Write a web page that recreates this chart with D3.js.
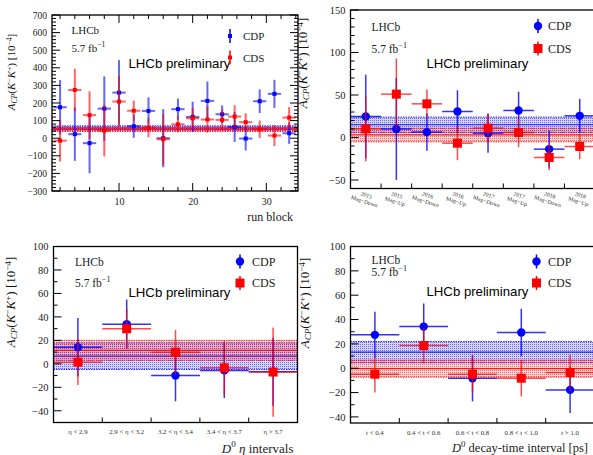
<!DOCTYPE html>
<html>
<head>
<meta charset="utf-8">
<script src="https://cdn.jsdelivr.net/npm/d3@7"></script>
<style>
  html, body { margin: 0; padding: 0; background: #fff; }
  svg { display: block; }
  .serif { font-family: "Liberation Serif", "DejaVu Serif", serif; }
  .sans { font-family: "Liberation Sans", Arial, sans-serif; }
</style>
</head>
<body>
<svg id="chart" width="593" height="455"></svg>
<script>
// ---- A_CP(K-K+) per run block ----
const runBlock    = [2, 4, 6, 8, 10, 12, 14, 16, 18, 20, 22, 24, 25.7, 27.2, 29.1, 31.1, 33.1];
const runCDP      = [176, 23, -28, 168, 259, 68, 155, 0, 165, 121, 212, 136, 64, -2, 210, 252, 28];
const runCDPerr   = [155, 152, 171, 183, 185, 66, 77, 165, 60, 86, 110, 50, 85, 68, 67, 80, 60];
const runCDS      = [-14, 274, 131, 43, 208, 156, 60, -6, 79, 113, 106, 104, 123, 91, 51, 15, 117];
const runCDSerr   = [119, 120, 135, 147, 146, 58, 55, 145, 45, 60, 75, 60, 65, 50, 50, 60, 60];
const runBandCDP  = [58, 12];   // [average, uncertainty]
const runBandCDS  = [50, 12];

// ---- per data-taking period ----
const periodYears = ["2015", "2015", "2016", "2016", "2017", "2017", "2018", "2018"];
const periodMag   = ["Mag−Down", "Mag−Up", "Mag−Down", "Mag−Up", "Mag−Down", "Mag−Up", "Mag−Down", "Mag−Up"];
const periodCDP    = [24.7, 10, 6.3, 30.6, 5.1, 31.8, -13.7, 25.5];
const periodCDPerr = [49, 60, 22, 25, 23, 22, 22, 20];
const periodCDS    = [10.2, 51, 39.6, -6.7, 11, 5.9, -23.5, -10.6];
const periodCDSerr = [38, 42, 17, 20, 17, 17, 15, 15];
const periodBandCDP = [15, 9];
const periodBandCDS = [3, 8];

// ---- per D0 pseudorapidity interval ----
const etaBins     = ["η < 2.9", "2.9 < η < 3.2", "3.2 < η < 3.4", "3.4 < η < 3.7", "η > 3.7"];
const etaCDP      = [14.1, 33.8, -9.9, -5.6, -6.8];
const etaCDPerr   = [25, 21, 22, 23.5, 29];
const etaCDS      = [1.4, 29.9, 9.9, -3.4, -7];
const etaCDSerr   = [19.5, 17, 19, 23, 38];
const etaBandCDP  = [6.5, 11.3];
const etaBandCDS  = [11.5, 8.5];

// ---- per D0 decay-time interval ----
const timeBins    = ["t < 0.4", "0.4 < t < 0.6", "0.6 < t < 0.8", "0.8 < t < 1.0", "t > 1.0"];
const timeCDP     = [27.4, 34.2, -8.2, 29.3, -17.8];
const timeCDPerr  = [19, 19, 19, 19.5, 19];
const timeCDS     = [-4.9, 18.6, -4.9, -8.2, -3.6];
const timeCDSerr  = [15, 14.5, 15, 15, 14.6];
const timeBandCDP = [13.2, 8.7];
const timeBandCDS = [-0.3, 7.0];

const BLUE = "#0000ff", RED = "#ff0000";
const svg = d3.select("#chart");

// dotted fill patterns for the average bands
const defs = svg.append("defs");
[["dotsBlue", BLUE], ["dotsRed", RED]].forEach(([id, col]) => {
  const p = defs.append("pattern").attr("id", id)
    .attr("patternUnits", "userSpaceOnUse").attr("width", 2).attr("height", 2);
  p.append("rect").attr("width", 1).attr("height", 1).attr("fill", col).attr("opacity", 0.5);
});

function supText(sel, parts) {
  // parts: [text, mode] with mode "n" normal, "i" italic, "sup", "sub", "isub"
  parts.forEach(([t, m]) => {
    const ts = sel.append("tspan").text(t);
    if (m === "i") ts.attr("font-style", "italic");
    if (m === "sup") ts.attr("baseline-shift", "40%").attr("font-size", "70%");
    if (m === "sub" || m === "isub") ts.attr("baseline-shift", "-25%").attr("font-size", "70%");
    if (m === "isub") ts.attr("font-style", "italic");
  });
}

function yTitle(g, cx, cy, size) {
  const t = g.append("text").attr("class", "serif")
    .attr("transform", `translate(${cx},${cy}) rotate(-90)`)
    .attr("text-anchor", "middle").attr("font-size", size).attr("fill", "#111");
  supText(t, [["A", "i"], ["CP", "isub"], ["(", "n"], ["K", "i"], ["−", "sup"],
              ["K", "i"], ["+", "sup"], [") [10", "n"], ["−4", "sup"], ["]", "n"]]);
}

function header(g, x0, yL, yF, size) {
  g.append("text").attr("class", "serif").attr("x", x0).attr("y", yL)
    .attr("dominant-baseline", "central").attr("font-size", size).attr("fill", "#222").text("LHCb");
  const t = g.append("text").attr("class", "serif").attr("x", x0).attr("y", yF)
    .attr("dominant-baseline", "central").attr("font-size", size).attr("fill", "#222");
  supText(t, [["5.7  fb", "n"], ["−1", "sup"]]);
}

function prelim(g, x0, yc) {
  g.append("text").attr("class", "sans").attr("x", x0).attr("y", yc)
    .attr("dominant-baseline", "central").attr("font-size", 13.2).attr("fill", "#000")
    .text("LHCb preliminary");
}

function legend(g, mx, tx, y1, y2, big, size) {
  const items = [["CDP", BLUE, "circle", y1], ["CDS", RED, "square", y2]];
  items.forEach(([lab, col, shape, yy]) => {
    g.append("line").attr("x1", mx).attr("x2", mx).attr("y1", yy - 7).attr("y2", yy + 7)
      .attr("stroke", col).attr("stroke-width", 1.5);
    if (!big) {
      g.append("rect").attr("x", mx - 2).attr("y", yy - 2).attr("width", 4).attr("height", 4).attr("fill", col);
    } else if (shape === "circle") {
      g.append("circle").attr("cx", mx).attr("cy", yy).attr("r", 4.2).attr("fill", col);
    } else {
      g.append("rect").attr("x", mx - 4.5).attr("y", yy - 4.5).attr("width", 9).attr("height", 9).attr("fill", col);
    }
    g.append("text").attr("class", "serif").attr("x", tx).attr("y", yy)
      .attr("dominant-baseline", "central").attr("font-size", size).attr("fill", "#222").text(lab);
  });
}

function band(g, x, y, b, col, pat) {
  const [x0, x1] = x.range();
  const top = y(b[0] + b[1]), bot = y(b[0] - b[1]);
  g.append("rect").attr("x", x0).attr("y", top).attr("width", x1 - x0).attr("height", bot - top)
    .attr("fill", col).attr("opacity", 0.17);
  g.append("rect").attr("x", x0).attr("y", top).attr("width", x1 - x0).attr("height", bot - top)
    .attr("fill", `url(#${pat})`);
  [b[0] + b[1], b[0] - b[1]].forEach(v => g.append("line")
    .attr("x1", x0).attr("x2", x1).attr("y1", y(v)).attr("y2", y(v))
    .attr("stroke", col).attr("stroke-width", 1).attr("stroke-dasharray", "1.5,1").attr("opacity", 0.85));
  g.append("line").attr("x1", x0).attr("x2", x1).attr("y1", y(b[0])).attr("y2", y(b[0]))
    .attr("stroke", col).attr("stroke-width", 1.2).attr("opacity", 0.85);
}

function points(g, xs, hw, vals, errs, y, col, shape, alpha, lw) {
  const sel = g.append("g");
  vals.forEach((v, i) => {
    const cx = xs(i);
    sel.append("line").attr("x1", cx).attr("x2", cx).attr("y1", y(v - errs[i])).attr("y2", y(v + errs[i]))
      .attr("stroke", col).attr("stroke-width", lw).attr("opacity", alpha);
    sel.append("line").attr("x1", hw(i)[0]).attr("x2", hw(i)[1]).attr("y1", y(v)).attr("y2", y(v))
      .attr("stroke", col).attr("stroke-width", lw).attr("opacity", alpha);
  });
  vals.forEach((v, i) => {
    const cx = xs(i), cy = y(v);
    if (shape === "small") {
      sel.append("rect").attr("x", cx - 2).attr("y", cy - 2).attr("width", 4).attr("height", 4).attr("fill", col);
    } else if (shape === "circle") {
      sel.append("circle").attr("cx", cx).attr("cy", cy).attr("r", 4.2).attr("fill", col);
    } else {
      sel.append("rect").attr("x", cx - 4.5).attr("y", cy - 4.5).attr("width", 9).attr("height", 9).attr("fill", col);
    }
  });
}

function frame(g, x, y) {
  const [x0, x1] = x.range(), [y1, y0] = y.range();
  g.append("rect").attr("x", x0).attr("y", y0).attr("width", x1 - x0).attr("height", y1 - y0)
    .attr("fill", "none").attr("stroke", "#000").attr("stroke-width", 1.3);
}

function yAxisTicks(g, y, x, major, minor, fmtSize, rightSide) {
  const [x0, x1] = x.range();
  const [lo, hi] = y.domain();
  const maj = d3.range(Math.ceil(lo / major) * major, hi + 1e-9, major);
  const mnr = d3.range(Math.ceil(lo / minor) * minor, hi + 1e-9, minor);
  const ax = d3.axisLeft(y).tickValues(maj).tickSize(0).tickPadding(5).tickFormat(d3.format("d"));
  const ag = g.append("g").attr("transform", `translate(${x0},0)`).call(ax);
  ag.select(".domain").remove();
  ag.selectAll("text").attr("class", "serif").attr("font-size", fmtSize).attr("fill", "#222");
  const sides = rightSide ? [[x0, 1], [x1, -1]] : [[x0, 1]];
  sides.forEach(([xe, dir]) => {
    mnr.forEach(v => {
      const isMaj = Math.abs(v / major - Math.round(v / major)) < 1e-6;
      g.append("line").attr("x1", xe).attr("x2", xe + dir * (isMaj ? 8 : 4))
        .attr("y1", y(v)).attr("y2", y(v)).attr("stroke", "#000").attr("stroke-width", 1);
    });
  });
}

function binTicks(g, x, y, n) {
  const [y1] = y.range();
  d3.range(1, n).forEach(i => g.append("line").attr("x1", x(i)).attr("x2", x(i))
    .attr("y1", y1).attr("y2", y1 - 5).attr("stroke", "#000").attr("stroke-width", 1));
}

// ================= Panel 1: run blocks =================
(function () {
  const g = svg.append("g");
  const x = d3.scaleLinear().domain([0.9, 34.3]).range([52, 298]);
  const y = d3.scaleLinear().domain([-300, 700]).range([191, 15]);
  band(g, x, y, runBandCDP, BLUE, "dotsBlue");
  band(g, x, y, runBandCDS, RED, "dotsRed");
  const hw = i => [x(runBlock[i] - 0.9), x(runBlock[i] + 0.9)];
  points(g, i => x(runBlock[i]), hw, runCDP, runCDPerr, y, BLUE, "small", 0.6, 2);
  points(g, i => x(runBlock[i]), hw, runCDS, runCDSerr, y, RED, "small", 0.6, 2);
  frame(g, x, y);
  yAxisTicks(g, y, x, 100, 20, 9.5, true);
  // x ticks: bottom and top
  const xt = d3.range(2, 34.3, 2);
  [[191, -1], [15, 1]].forEach(([ye, dir]) => xt.forEach(v => {
    const m = v % 10 === 0;
    g.append("line").attr("x1", x(v)).attr("x2", x(v)).attr("y1", ye).attr("y2", ye + dir * (m ? 8 : 4))
      .attr("stroke", "#000").attr("stroke-width", 1);
  }));
  const axb = d3.axisBottom(x).tickValues([10, 20, 30]).tickSize(0).tickPadding(7);
  const ag = g.append("g").attr("transform", "translate(0,191)").call(axb);
  ag.select(".domain").remove();
  ag.selectAll("text").attr("class", "serif").attr("font-size", 10).attr("fill", "#222");
  g.append("text").attr("class", "serif").attr("x", 293).attr("y", 217).attr("text-anchor", "end")
    .attr("dominant-baseline", "central").attr("font-size", 12).attr("fill", "#222").text("run block");
  yTitle(g, 15, 72, 11);
  header(g, 71.5, 29.5, 47.5, 11);
  prelim(g, 128.5, 63.5);
  legend(g, 230, 243, 36, 57.5, false, 11);
})();

// ================= Panel 2: data-taking periods =================
(function () {
  const g = svg.append("g");
  const x = d3.scaleLinear().domain([0, 8]).range([350.5, 595]);
  const y = d3.scaleLinear().domain([-60, 150]).range([188.5, 10]);
  band(g, x, y, periodBandCDP, BLUE, "dotsBlue");
  band(g, x, y, periodBandCDS, RED, "dotsRed");
  const hw = i => [x(i), x(i + 1)];
  points(g, i => x(i + 0.5), hw, periodCDP, periodCDPerr, y, BLUE, "circle", 0.8, 1.5);
  points(g, i => x(i + 0.5), hw, periodCDS, periodCDSerr, y, RED, "square", 0.7, 1.5);
  frame(g, x, y);
  yAxisTicks(g, y, x, 50, 10, 10.5, false);
  binTicks(g, x, y, 8);
  periodYears.forEach((yr, i) => {
    const t = g.append("text").attr("class", "serif").attr("font-size", 5.8).attr("fill", "#333")
      .attr("text-anchor", "middle")
      .attr("transform", `translate(${x(i + 0.5)},${197}) rotate(18)`);
    t.append("tspan").attr("x", 0).attr("dy", 0).text(yr);
    t.append("tspan").attr("x", 0).attr("dy", 6.5).text(periodMag[i]);
  });
  yTitle(g, 307, 63, 13);
  header(g, 371.5, 26.5, 48.5, 11.5);
  prelim(g, 426.5, 63);
  legend(g, 538, 548, 26, 48.5, true, 12);
})();

// ================= Panel 3: eta intervals =================
(function () {
  const g = svg.append("g");
  const x = d3.scaleLinear().domain([0, 5]).range([53.5, 297.5]);
  const y = d3.scaleLinear().domain([-50, 100]).range([422.5, 246.5]);
  band(g, x, y, etaBandCDP, BLUE, "dotsBlue");
  band(g, x, y, etaBandCDS, RED, "dotsRed");
  const hw = i => [x(i), x(i + 1)];
  points(g, i => x(i + 0.5), hw, etaCDP, etaCDPerr, y, BLUE, "circle", 0.8, 1.5);
  points(g, i => x(i + 0.5), hw, etaCDS, etaCDSerr, y, RED, "square", 0.7, 1.5);
  frame(g, x, y);
  yAxisTicks(g, y, x, 20, 10, 10.5, false);
  binTicks(g, x, y, 5);
  etaBins.forEach((lab, i) => g.append("text").attr("class", "serif").attr("x", x(i + 0.5)).attr("y", 431.5)
    .attr("text-anchor", "middle").attr("dominant-baseline", "central").attr("font-size", 6.8)
    .attr("fill", "#333").text(lab));
  const t = g.append("text").attr("class", "serif").attr("x", 293.5).attr("y", 448).attr("text-anchor", "end")
    .attr("dominant-baseline", "central").attr("font-size", 13).attr("fill", "#222");
  supText(t, [["D", "i"], ["0", "sup"], [" ", "n"], ["η", "i"], [" intervals", "n"]]);
  yTitle(g, 15, 302, 13);
  header(g, 75, 261.5, 283, 11.5);
  prelim(g, 128.5, 292.5);
  legend(g, 240, 252, 261.5, 283, true, 12);
})();

// ================= Panel 4: decay-time intervals =================
(function () {
  const g = svg.append("g");
  const x = d3.scaleLinear().domain([0, 5]).range([350.5, 594.5]);
  const y = d3.scaleLinear().domain([-45, 100]).range([423, 246.5]);
  band(g, x, y, timeBandCDP, BLUE, "dotsBlue");
  band(g, x, y, timeBandCDS, RED, "dotsRed");
  const hw = i => [x(i), x(i + 1)];
  points(g, i => x(i + 0.5), hw, timeCDP, timeCDPerr, y, BLUE, "circle", 0.8, 1.5);
  points(g, i => x(i + 0.5), hw, timeCDS, timeCDSerr, y, RED, "square", 0.7, 1.5);
  frame(g, x, y);
  yAxisTicks(g, y, x, 20, 10, 10.5, false);
  binTicks(g, x, y, 5);
  timeBins.forEach((lab, i) => g.append("text").attr("class", "serif").attr("x", x(i + 0.5)).attr("y", 432)
    .attr("text-anchor", "middle").attr("dominant-baseline", "central").attr("font-size", 6.8)
    .attr("fill", "#333").text(lab));
  const t = g.append("text").attr("class", "serif").attr("x", 588).attr("y", 448).attr("text-anchor", "end")
    .attr("dominant-baseline", "central").attr("font-size", 12.5).attr("fill", "#222");
  supText(t, [["D", "i"], ["0", "sup"], [" decay-time interval [ps]", "n"]]);
  yTitle(g, 309, 303, 13);
  header(g, 371.5, 260, 271.5, 11.5);
  prelim(g, 426.5, 291.5);
  legend(g, 536.5, 548, 261.5, 283, true, 12);
})();
</script>
</body>
</html>
